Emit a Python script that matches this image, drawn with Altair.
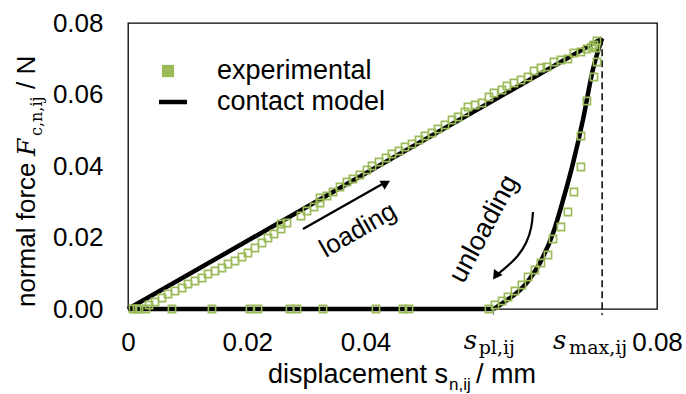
import altair as alt
import pandas as pd

# ---------------- data ----------------
exp_load_s = [0.00076, 0.00136, 0.00166, 0.00272, 0.00318, 0.00408, 0.00514, 0.00605, 0.00711, 0.00817,
              0.00907, 0.01013, 0.01119, 0.01210, 0.01316, 0.01421, 0.01512, 0.01618, 0.01724, 0.01814,
              0.01920, 0.02026, 0.02117, 0.02208, 0.02314, 0.02314, 0.02404, 0.02616, 0.02707, 0.02813,
              0.02904, 0.02904, 0.03009, 0.03100, 0.03206, 0.03312, 0.03403, 0.03508, 0.03614, 0.03690,
              0.03796, 0.03902, 0.03992, 0.04098, 0.04189, 0.04295, 0.04401, 0.04491, 0.04597, 0.04688,
              0.04794, 0.04900, 0.04991, 0.05096, 0.05142, 0.05248, 0.05353, 0.05459, 0.05535, 0.05656,
              0.05731, 0.05837, 0.05943, 0.06049, 0.06140, 0.06245, 0.06336, 0.06442, 0.06547, 0.06653,
              0.06744, 0.06850, 0.06940, 0.07016, 0.07046, 0.07092]
exp_load_F = [0.0, 0.0, 0.0, 0.0, 0.00112, 0.00196, 0.00308, 0.00420, 0.00503, 0.00587,
              0.00699, 0.00783, 0.00867, 0.00979, 0.01063, 0.01147, 0.01259, 0.01343, 0.01454, 0.01566,
              0.01706, 0.01846, 0.01986, 0.02098, 0.02238, 0.02378, 0.02406, 0.02601, 0.02741, 0.02853,
              0.02965, 0.03105, 0.03161, 0.03273, 0.03413, 0.03552, 0.03636, 0.03748, 0.03888, 0.04000,
              0.04112, 0.04224, 0.04336, 0.04420, 0.04531, 0.04615, 0.04727, 0.04839, 0.04923, 0.05035,
              0.05147, 0.05287, 0.05371, 0.05510, 0.05650, 0.05706, 0.05762, 0.05930, 0.06042, 0.06126,
              0.06238, 0.06322, 0.06406, 0.06490, 0.06657, 0.06741, 0.06769, 0.06909, 0.06965, 0.06993,
              0.07160, 0.07188, 0.07272, 0.07328, 0.07384, 0.07496]
exp_unload_s = [0.07077, 0.07092, 0.07046, 0.06940, 0.06850, 0.06850, 0.06744, 0.06653, 0.06547, 0.06427,
                0.06351, 0.06245, 0.06154, 0.06049, 0.05957, 0.05852, 0.05746, 0.05656, 0.05550, 0.05459]
exp_unload_F = [0.07300, 0.06909, 0.06489, 0.05818, 0.04839, 0.03972, 0.03273, 0.02713, 0.02294, 0.01958,
                0.01510, 0.01287, 0.01091, 0.00895, 0.00671, 0.00503, 0.00336, 0.00224, 0.00112, 0.0]
exp_base_s = [0.00665, 0.01270, 0.01845, 0.01966, 0.02450, 0.02556, 0.02949, 0.03750, 0.04158, 0.04249]
exp_base_F = [0.0] * len(exp_base_s)

model_load_s = [0.0, 0.0717]
model_load_F = [0.0, 0.0757]
model_unload_s = [0.0553, 0.0567, 0.0603, 0.0623, 0.0643, 0.0658, 0.0673, 0.0688, 0.0703, 0.0717]
model_unload_F = [0.0, 0.0017, 0.0073, 0.0129, 0.0213, 0.0305, 0.0408, 0.0529, 0.0669, 0.0757]
model_base_s = [0.0, 0.0553]
model_base_F = [0.0, 0.0]

s_pl = 0.0553
s_max = 0.0717
F_max = 0.0757

x_ticks = [0, 0.02, 0.04, 0.08]
y_ticks = [0, 0.02, 0.04, 0.06, 0.08]

legend_labels = ["experimental", "contact model"]
load_arrow_s = [0.02646, 0.03840]
load_arrow_F = [0.02238, 0.03490]
unload_arrow_s = [0.06124, 0.06108, 0.06033, 0.05882, 0.05670, 0.05600]
unload_arrow_F = [0.02713, 0.02294, 0.01846, 0.01426, 0.01091, 0.00990]

GREEN = "#9BBB59"
SANS = "Liberation Sans"
SERIF = "DejaVu Serif"
FS = 26

# ---------------- encodings ----------------
xs = alt.Scale(domain=[0, 0.08], nice=False, zero=True)
ys = alt.Scale(domain=[0, 0.08], nice=False, zero=True)

x_axis = alt.Axis(values=x_ticks, title=None, ticks=False, domain=False, grid=False,
                  labelFont=SANS, labelFontSize=FS, labelColor="black", labelPadding=20,
                  labelFlush=False, labelOverlap=False,
                  labelExpr="datum.value == 0 ? '0' : format(datum.value, '.2f')",
                  labelOffset={"condition": [
                      {"test": "abs(datum.value - 0.02) < 0.000001", "value": -13},
                      {"test": "abs(datum.value - 0.04) < 0.000001", "value": -27}],
                      "value": 0})
y_axis = alt.Axis(values=y_ticks, title=None, ticks=False, domain=False, grid=False,
                  labelFont=SANS, labelFontSize=FS, labelColor="black", labelPadding=25,
                  format=".2f", labelOverlap=False, labelFlush=False)

X = alt.X("s:Q", scale=xs, axis=x_axis)
Y = alt.Y("F:Q", scale=ys, axis=y_axis)

def df(s, F, **extra):
    d = pd.DataFrame({"s": s, "F": F})
    for k, v in extra.items():
        d[k] = v
    return d

model_load = alt.Chart(df(model_load_s, model_load_F)).mark_line(
    color="black", strokeWidth=4.5, strokeCap="butt").encode(x=X, y=Y)
model_base = alt.Chart(df(model_base_s, model_base_F)).mark_line(
    color="black", strokeWidth=4.5).encode(x=X, y=Y)
model_unload = alt.Chart(df(model_unload_s, model_unload_F)).mark_line(
    color="black", strokeWidth=4.5, interpolate="monotone").encode(x=X, y=Y)

exp_df = pd.concat([df(exp_load_s, exp_load_F), df(exp_unload_s, exp_unload_F),
                    df(exp_base_s, exp_base_F)], ignore_index=True)
exp_pts = alt.Chart(exp_df).mark_point(shape="square", filled=False, color=GREEN,
                                       size=52, strokeWidth=1.6, opacity=1).encode(x=X, y=Y)

dash = alt.Chart(pd.DataFrame({"s": [s_max], "F": [F_max]})).mark_rule(
    color="black", strokeWidth=1.5, strokeDash=[7, 4]).encode(x=X, y=Y, y2=alt.value(292))
pl_tick = alt.Chart(pd.DataFrame({"s": [s_pl]})).mark_rule(
    color="#777", strokeWidth=1).encode(x=X, y=alt.value(286), y2=alt.value(292))

# arrows
load_arrow = alt.Chart(df(load_arrow_s, load_arrow_F)).mark_line(
    color="black", strokeWidth=2.2).encode(x=X, y=Y)
load_head = alt.Chart(df([0.03902], [0.03524])).mark_point(
    shape="triangle-up", filled=True, color="black", size=110, angle=61, opacity=1).encode(x=X, y=Y)
unload_arrow = alt.Chart(df(unload_arrow_s, unload_arrow_F, o=list(range(len(unload_arrow_s))))).mark_line(
    color="black", strokeWidth=2.2, interpolate="basis").encode(x=X, y=Y, order="o:O")
unload_head = alt.Chart(df([0.05560], [0.00930])).mark_point(
    shape="triangle-up", filled=True, color="black", size=110, angle=215, opacity=1).encode(x=X, y=Y)

loading_txt = alt.Chart(df([0.03478], [0.0221], t=["loading"])).mark_text(
    font=SANS, fontSize=FS, angle=330, color="black").encode(x=X, y=Y, text="t:N")
unloading_txt = alt.Chart(df([0.05383], [0.02238], t=["unloading"])).mark_text(
    font=SANS, fontSize=27, angle=298, color="black").encode(x=X, y=Y, text="t:N")

# s_pl and s_max labels on the x-axis
def slabel(pos, t, dx, size, style, yv):
    return alt.Chart(pd.DataFrame({"s": [pos], "t": [t]})).mark_text(
        font=SERIF, fontStyle=style, fontSize=size, align="left", baseline="alphabetic",
        color="black", dx=dx).encode(x=X, y=alt.value(yv), text="t:N")

s_pl_main = slabel(s_pl, "s", -30, 26, "italic", 326)
s_pl_sub = slabel(s_pl, "pl,ij", -15, 19, "normal", 331)
s_max_main = slabel(s_max, "s", -49, 26, "italic", 326)
s_max_sub = slabel(s_max, "max,ij", -33, 19, "normal", 331)

# legend
one = pd.DataFrame({"k": [0]})
leg_sq = alt.Chart(one).mark_point(shape="square", filled=True, color=GREEN, size=150, opacity=1).encode(
    x=alt.value(40), y=alt.value(48))
leg_line = alt.Chart(one).mark_rule(color="black", strokeWidth=4.5).encode(
    x=alt.value(31), x2=alt.value(59), y=alt.value(79))
leg_t1 = alt.Chart(one).mark_text(text=legend_labels[0], font=SANS, fontSize=27, align="left",
                                  baseline="alphabetic", color="black").encode(x=alt.value(89), y=alt.value(56))
leg_t2 = alt.Chart(one).mark_text(text=legend_labels[1], font=SANS, fontSize=27, align="left",
                                  baseline="alphabetic", color="black").encode(x=alt.value(89), y=alt.value(87))

# axis titles built from pieces
def txt(t, x, y, font=SANS, size=FS, style="normal", angle=0):
    return alt.Chart(one).mark_text(text=t, font=font, fontSize=size, fontStyle=style, angle=angle,
                                    align="left", baseline="alphabetic", color="black").encode(
        x=alt.value(x), y=alt.value(y))

xt1 = txt("displacement s", 140, 360, size=27)
xt2 = txt("n,ij", 321, 367, size=17)
xt3 = txt("/ mm", 348, 360, size=27)

yt1 = txt("normal force", -93, 284, angle=270)
yt2 = txt("F", -93, 133, font=SERIF, size=25, style="italic", angle=270)
yt3 = txt("c,n,ij", -86, 113, font=SERIF, size=16, angle=270)
yt4 = txt("/ N", -93, 66, angle=270)

chart = alt.layer(
    model_base, model_load, model_unload, dash, pl_tick, exp_pts,
    load_arrow, load_head, unload_arrow, unload_head, loading_txt, unloading_txt,
    s_pl_main, s_pl_sub, s_max_main, s_max_sub, leg_sq, leg_line, leg_t1, leg_t2,
    xt1, xt2, xt3, yt1, yt2, yt3, yt4
).properties(
    width=529, height=286, autosize="none",
    padding={"left": 128, "top": 23, "right": 29, "bottom": 85},
    background="white"
).configure_view(stroke="black", strokeWidth=1.3)

chart.save("out.html", embed_options={"renderer": "svg", "actions": False})
